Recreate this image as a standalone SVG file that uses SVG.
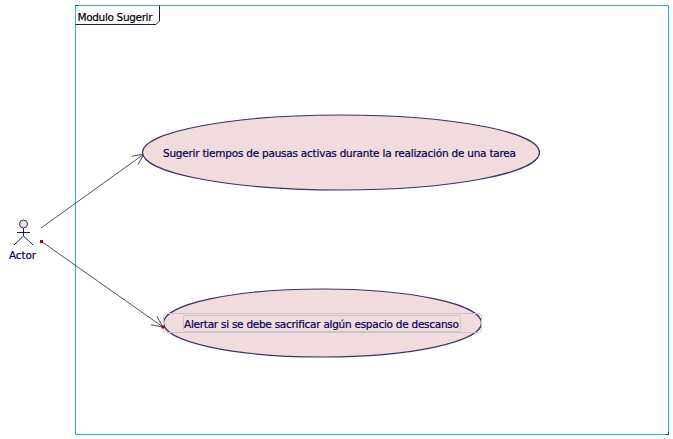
<svg xmlns="http://www.w3.org/2000/svg" width="673" height="439" viewBox="0 0 673 439">
<style>
text{font-family:"DejaVu Sans","Noto Sans",sans-serif;font-size:10.5px;fill:#000050;stroke:#000050;stroke-width:.2}
.uc{fill:#f0dcdc;stroke:#3c3264;stroke-width:1.2}
.sel{fill:none;stroke:#c8c4cc;stroke-width:1}
.conn{fill:none;stroke:#50505a;stroke-width:1}
.act{fill:none;stroke:#1e1e46;stroke-width:1}
.dot{fill:#a00000}
</style>
<defs>
<marker id="open" markerUnits="userSpaceOnUse" markerWidth="16" markerHeight="16" refX="14" refY="8" orient="auto">
<path d="M3 3L14 8L3 13" fill="none" stroke="#50505a" stroke-width="1"/>
</marker>
</defs>
<g id="frame">
<rect x="75.5" y="5.5" width="593" height="429" fill="#fff" stroke="#1eb4f0" stroke-width="1"/>
<path d="M75.5 24.5H156L159.500 21V5.500" fill="none" stroke="#1e1e32" stroke-width="1"/>
<path d="M75.500 5.500H78M666 434.500H668.500V432" fill="none" stroke="#1e3c50" stroke-width="1"/>
<text x="77.500" y="21" style="fill:#000;stroke:#000" textLength="75">Modulo Sugerir</text>
</g>
<g id="connectors">
<line class="conn" x1="41" y1="228" x2="144" y2="154" marker-end="url(#open)"/>
<line class="conn" x1="41.500" y1="241.500" x2="163" y2="327" marker-end="url(#open)"/>
</g>
<g id="actor">
<circle cx="23.500" cy="224" r="4" fill="#f0dcdc" stroke="#3c3264"/>
<path class="act" d="M23.500 228V236M17 232.500H30M23.500 236L14 245M23.500 236L33 245"/>
<text x="9" y="259" textLength="27">Actor</text>
<rect class="dot" x="40" y="240" width="3" height="3"/>
</g>
<g id="usecase1">
<ellipse class="uc" cx="341" cy="152.500" rx="198.500" ry="37.500"/>
<text x="163" y="157" textLength="353">Sugerir tiempos de pausas activas durante la realización de una tarea</text>
</g>
<g id="usecase2">
<ellipse class="uc" cx="322.500" cy="323" rx="159" ry="34"/>
<rect class="sel" x="163.500" y="313.500" width="318" height="19" rx="3"/>
<rect class="sel" x="183.500" y="315.500" width="277" height="16" rx="2"/>
<text x="184" y="328" textLength="275">Alertar si se debe sacrificar algún espacio de descanso</text>
<rect class="dot" x="161.500" y="325.500" width="3" height="3"/>
</g>
</svg>
